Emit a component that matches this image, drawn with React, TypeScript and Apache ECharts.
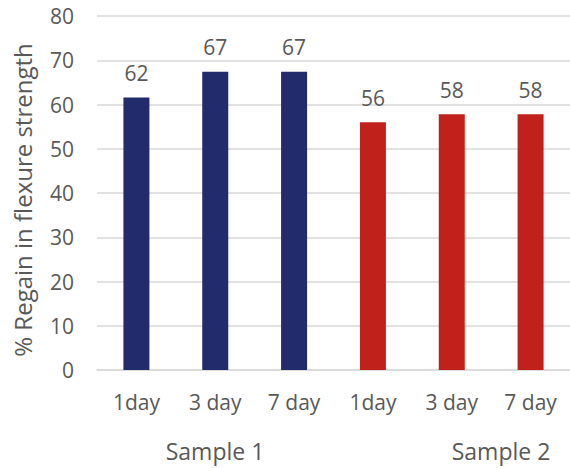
import React, { useEffect, useRef } from "react";
import * as echarts from "echarts";

const categories = ["1day", "3 day", "7 day", "1day", "3 day", "7 day"];
const values = [61.6, 67.4, 67.4, 56.0, 57.8, 57.8];
const labels = ["62", "67", "67", "56", "58", "58"];
const colors = ["#222B6C", "#222B6C", "#222B6C", "#C0211A", "#C0211A", "#C0211A"];
const groupLabels = ["Sample 1", "Sample 2"];
const yTicks = { min: 0, max: 80, interval: 10 };

const FONT = "'Open Sans', 'Noto Sans', sans-serif";
const GRAY = "#595959";

export default function App() {
  const ref = useRef<HTMLDivElement>(null);
  useEffect(() => {
    if (!ref.current) return;
    const chart = echarts.init(ref.current, null, { renderer: "svg" });
    chart.setOption({
      animation: false,
      grid: { left: 97, top: 16, width: 483, height: 354, containLabel: false },
      xAxis: {
        type: "category",
        data: categories,
        axisLine: { lineStyle: { color: "#D9D9D9", width: 1.5 } },
        axisTick: { show: false },
        axisLabel: { color: GRAY, fontSize: 21, fontFamily: FONT, margin: 21 },
      },
      yAxis: {
        type: "value",
        min: yTicks.min,
        max: yTicks.max,
        interval: yTicks.interval,
        name: "% Regain in flexure strength",
        nameLocation: "middle",
        nameGap: 63,
        nameTextStyle: { color: GRAY, fontSize: 24, fontFamily: FONT, padding: [0, 14, 0, 0] },
        axisLine: { show: false },
        axisTick: { show: false },
        axisLabel: { color: GRAY, fontSize: 21, fontFamily: FONT, margin: 23 },
        splitLine: { lineStyle: { color: "#D9D9D9", width: 1.5 } },
      },
      series: [
        {
          type: "bar",
          barWidth: 26,
          data: values.map((v, i) => ({ value: v, itemStyle: { color: colors[i] } })),
          label: {
            show: true,
            position: "top",
            distance: 14,
            color: GRAY,
            fontSize: 21,
            fontFamily: FONT,
            formatter: (p: any) => labels[p.dataIndex],
          },
        },
      ],
      graphic: [
        {
          type: "text",
          x: 215,
          y: 451,
          style: { text: groupLabels[0], fill: GRAY, fontSize: 23, fontFamily: FONT, textAlign: "center", textVerticalAlign: "middle" },
        },
        {
          type: "text",
          x: 501,
          y: 451,
          style: { text: groupLabels[1], fill: GRAY, fontSize: 23, fontFamily: FONT, textAlign: "center", textVerticalAlign: "middle" },
        },
      ],
    });
    return () => chart.dispose();
  }, []);
  return <div ref={ref} style={{ width: 570, height: 468, position: "absolute", left: 0, top: 0 }} />;
}
